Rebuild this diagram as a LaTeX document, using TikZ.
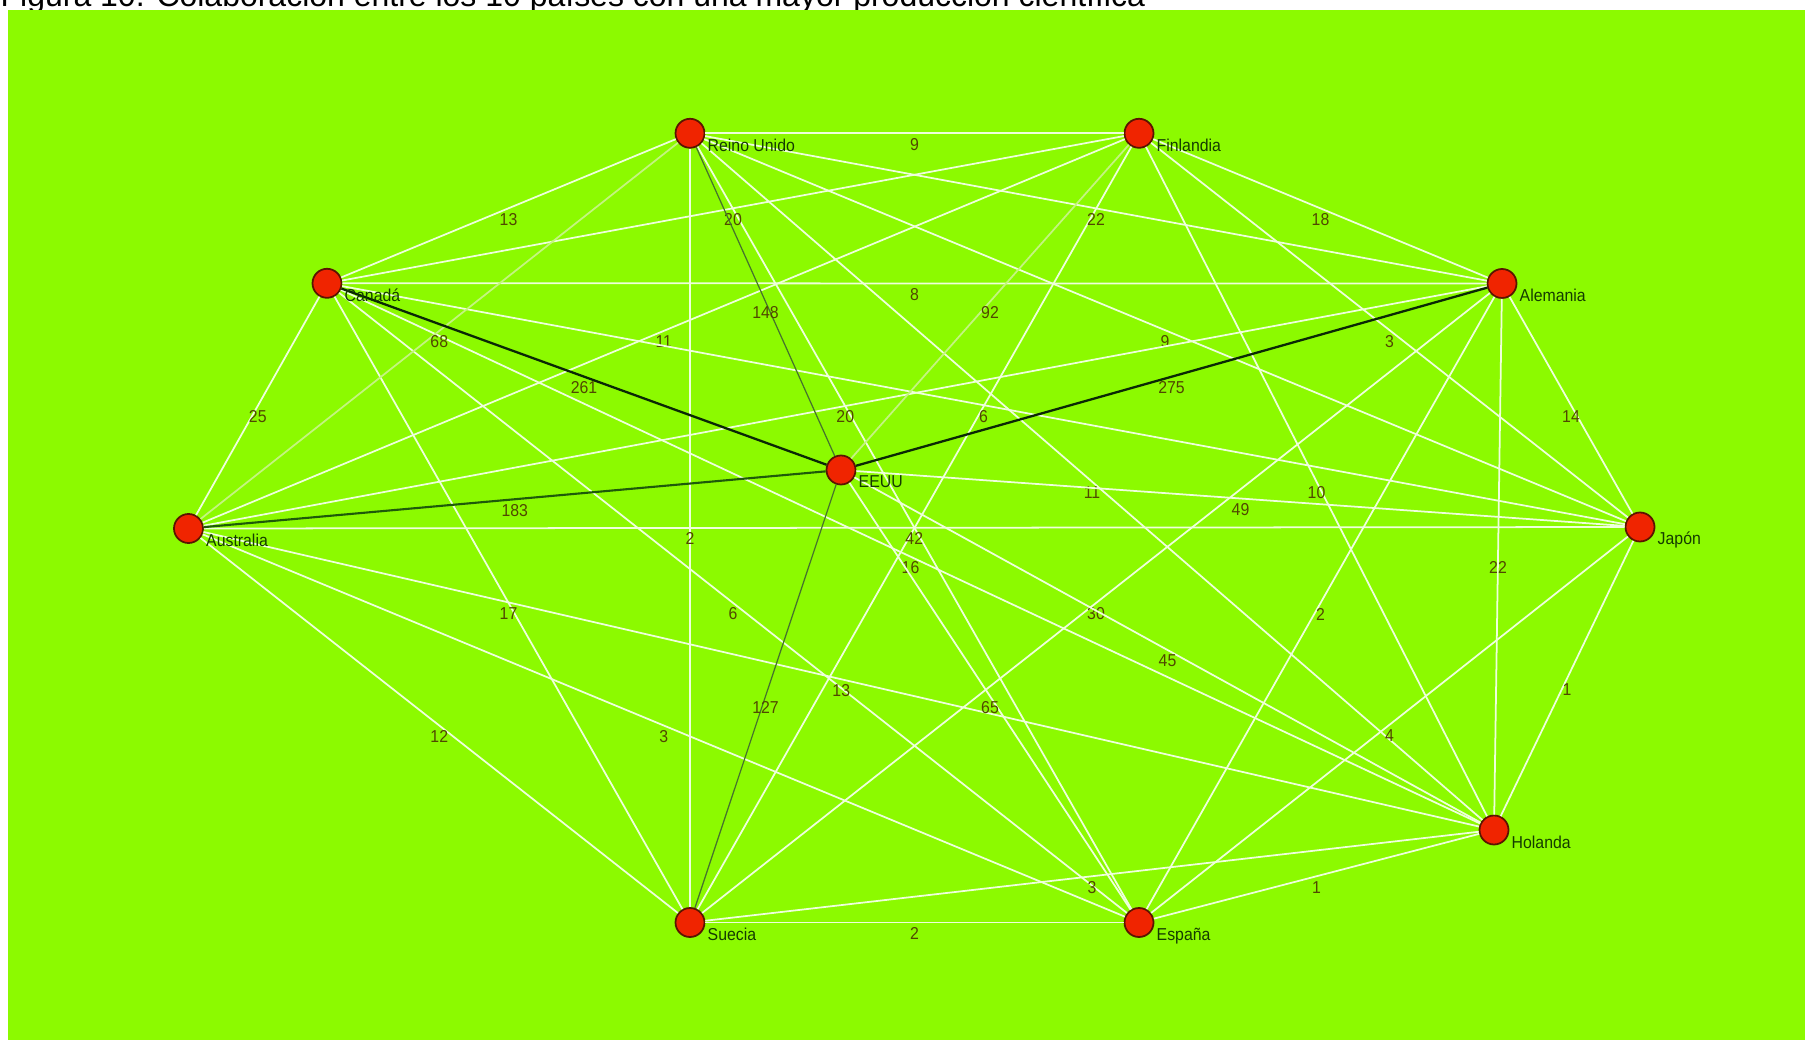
\documentclass[tikz,border=0pt]{standalone}
\usepackage{fontspec}
\setmainfont{Liberation Sans}
\newfontfamily\rotulo[FakeStretch=0.92]{Liberation Sans}
\usepackage{xcolor}

\definecolor{fondo}{RGB}{140,250,0}
\definecolor{rojo}{RGB}{240,36,0}
\definecolor{borde}{RGB}{90,20,0}
\definecolor{linea}{RGB}{238,255,220}
\definecolor{palido}{RGB}{196,244,128}
\definecolor{grisverde}{RGB}{70,115,45}
\definecolor{verdeosc}{RGB}{30,90,10}
\definecolor{negro}{RGB}{10,40,5}
\definecolor{tinta}{RGB}{20,60,0}
\definecolor{cifra}{RGB}{80,72,0}

\begin{document}
\begin{tikzpicture}[
		pais/.style={circle, fill=rojo, draw=borde, line width=0.5pt,
			minimum size=0.29cm, inner sep=0pt},
		nombre/.style={font=\rotulo\fontsize{4.9pt}{5pt}\selectfont,
			text=tinta, inner sep=0pt, anchor=base west},
		peso/.style={font=\rotulo\fontsize{4.9pt}{5pt}\selectfont,
			text=cifra, inner sep=0pt, yshift=-0.11cm},
		blanco/.style={draw=linea, line width=0.5pt},
		claro/.style={draw=palido, line width=0.5pt},
		gris/.style={draw=grisverde, line width=0.35pt},
		oscuro/.style={draw=verdeosc, line width=0.6pt},
		fuerte/.style={draw=negro, line width=0.65pt}]

	% Page of 1805 x 1040 px, one px is 0.01 cm.
	\useasboundingbox (0,0) rectangle (18.05,-10.40);

	% Caption, its upper half lies outside the page.
	\node[font=\fontsize{9.1pt}{11pt}\selectfont, anchor=base west, inner sep=0pt]
		(titulo) at (0,-0.065)
		{Figura 10. Colaboración entre los 10 países con una mayor producción científica};
	\fill[fondo] (0.08,-0.10) rectangle (18.05,-10.40);

	\def\paises{ru/6.90/-1.333/Reino Unido, fi/11.39/-1.333/Finlandia,
		ca/3.27/-2.833/Canadá, al/15.02/-2.835/Alemania,
		au/1.885/-5.285/Australia, us/8.41/-4.70/EEUU,
		ja/16.40/-5.27/Japón, ho/14.94/-8.30/Holanda,
		su/6.90/-9.225/Suecia, es/11.39/-9.225/España}

	% Countries.
	\foreach \n/\x/\y/\t in \paises
		\node[pais] (\n) at (\x,\y) {};

	% Links without a number of their own (it sits under the 42).
	\draw[blanco] (ru) -- (es);
	\draw[blanco] (fi) -- (su);

	% Links and their numbers of shared papers.
	\foreach \a/\b/\w/\s in {
			ru/fi/9/blanco, ru/ca/13/blanco, ru/al/22/blanco,
			ru/ja/9/blanco, ru/ho/11/blanco, ru/su/2/blanco,
			fi/ca/20/blanco, fi/al/18/blanco, fi/au/11/blanco,
			fi/ja/3/blanco, fi/ho/10/blanco,
			ca/al/8/blanco, ca/au/25/blanco, ca/ja/6/blanco,
			ca/ho/16/blanco, ca/su/17/blanco, ca/es/6/blanco,
			al/au/20/blanco, al/ja/14/blanco, al/ho/22/blanco,
			al/su/30/blanco, al/es/2/blanco,
			au/ja/42/blanco, au/ho/13/blanco, au/su/12/blanco, au/es/3/blanco,
			us/ja/49/blanco, us/ho/45/blanco, us/es/65/blanco,
			ja/ho/1/blanco, ja/es/4/blanco,
			ho/su/3/blanco, ho/es/1/blanco, su/es/2/blanco,
			ru/au/68/claro, fi/us/92/claro,
			ru/us/148/gris, us/su/127/gris,
			au/us/183/oscuro,
			ca/us/261/fuerte, al/us/275/fuerte} {
		\draw[\s] (\a) -- node[peso] {\w} (\b);
	}

	% Names, written over the links.
	\foreach \n/\x/\y/\t in \paises
		\node[nombre] (\n-t) at ([shift={(0.17,-0.18)}]\n.center) {\t};
\end{tikzpicture}
\end{document}
